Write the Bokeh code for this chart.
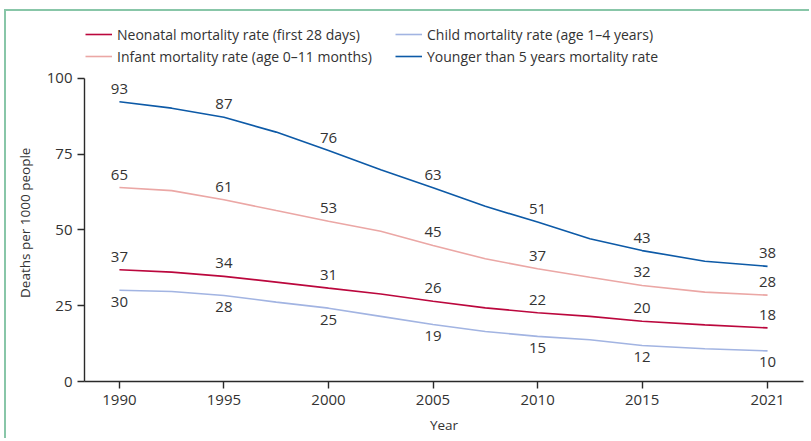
from bokeh.plotting import figure
from bokeh.models import ColumnDataSource, Legend, LegendItem, FixedTicker, Range1d
from bokeh.embed import file_html
from bokeh.resources import INLINE
from bokeh.core.properties import value

# labelled values (data labels / ticks)
years = [1990, 1995, 2000, 2005, 2010, 2015, 2021]
neonatal = [37, 34, 31, 26, 22, 20, 18]
infant = [65, 61, 53, 45, 37, 32, 28]
child = [30, 28, 25, 19, 15, 12, 10]
under5 = [93, 87, 76, 63, 51, 43, 38]
y_ticks = [0, 25, 50, 75, 100]

# curve values
curve_years = [1990, 1992.5, 1995, 1997.5, 2000, 2002.5, 2005, 2007.5, 2010, 2012.5, 2015, 2018, 2021]
neonatal_curve = [36.9, 36.1, 34.7, 32.8, 30.8, 28.9, 26.5, 24.3, 22.7, 21.5, 19.9, 18.7, 17.7]
infant_curve = [64.0, 63.0, 60.0, 56.4, 52.9, 49.6, 44.9, 40.5, 37.2, 34.4, 31.7, 29.5, 28.5]
child_curve = [30.1, 29.7, 28.4, 26.2, 24.2, 21.5, 18.8, 16.5, 14.9, 13.8, 11.9, 10.8, 10.1]
under5_curve = [92.3, 90.2, 87.2, 82.3, 76.2, 69.9, 63.9, 57.8, 52.6, 47.1, 43.2, 39.7, 38.0]

names = [
    "Neonatal mortality rate (first 28 days)",
    "Child mortality rate (age 1\u20134 years)",
    "Infant mortality rate (age 0\u201311 months)",
    "Younger than 5 years mortality rate",
]
x_title = "Year"
y_title = "Deaths per 1000 people"

FONT = "Open Sans"
TXT = "#333333"

# frame extends to the top of the canvas so the legend is drawn inside it;
# the y axis itself is bounded to 0-100
p = figure(width=805, height=429, output_backend="svg", toolbar_location=None,
           x_range=Range1d(1988.33, 2022.72), y_range=Range1d(0, 122.1),
           min_border_left=78, min_border_right=8, min_border_top=0, min_border_bottom=59)
p.grid.visible = False
p.outline_line_color = None
p.background_fill_color = "white"
p.border_fill_color = "white"

series = [
    (neonatal, neonatal_curve, "#bb073d", -13),
    (child, child_curve, "#a2b4e2", 11.5),
    (infant, infant_curve, "#eba7a5", -13),
    (under5, under5_curve, "#0d5aa7", -13),
]
renderers = []
for vals, curve, col, off in series:
    lsrc = ColumnDataSource(dict(x=curve_years, y=curve))
    r = p.line("x", "y", source=lsrc, line_color=col, line_width=1.6)
    renderers.append(r)
    # each number sits just above (or below) its curve at that year
    ly = [curve[curve_years.index(yr)] for yr in years]
    src = ColumnDataSource(dict(x=years, y=ly, t=[str(v) for v in vals]))
    p.text("x", "y", text="t", source=src, y_offset=off, text_align="center",
           text_baseline="middle", text_font=value(FONT), text_font_size="15px",
           text_color=TXT)

legend = Legend(
    items=[LegendItem(label=n, renderers=[r]) for n, r in zip(names, renderers)],
    location=(1, 314), orientation="horizontal", ncols=2,
    padding=0, margin=0, spacing=0,
    glyph_width=27, glyph_height=22, label_height=22, label_width=278,
    label_standoff=5, label_text_font=FONT, label_text_font_size="14px",
    label_text_color=TXT, border_line_color=None, background_fill_alpha=0,
)
p.add_layout(legend)

for ax in (p.xaxis[0], p.yaxis[0]):
    ax.axis_line_color = "#2a2a2a"
    ax.axis_line_width = 1.4
    ax.major_tick_line_color = "#2a2a2a"
    ax.major_tick_line_width = 1.4
    ax.major_tick_out = 7
    ax.major_tick_in = 0
    ax.minor_tick_line_color = None
    ax.major_label_text_font = FONT
    ax.major_label_text_font_size = "15px"
    ax.major_label_text_color = TXT
    ax.axis_label_text_font = FONT
    ax.axis_label_text_font_size = "13.5px"
    ax.axis_label_text_font_style = "normal"
    ax.axis_label_text_color = TXT

p.yaxis.bounds = (0, 100)
p.xaxis.ticker = FixedTicker(ticks=years)
p.yaxis.ticker = FixedTicker(ticks=y_ticks)
p.xaxis.axis_label = x_title
# trailing no-break spaces centre the visible title on the 0-100 axis span
p.yaxis.axis_label = y_title + "\u00a0" * 15
p.xaxis.major_label_standoff = 6
p.xaxis.axis_label_standoff = 8
p.yaxis.major_label_standoff = 5
p.yaxis.axis_label_standoff = 10

p.styles = {"border-top": "2px solid #88c6a8", "border-left": "2px solid #88c6a8",
            "margin-left": "4px", "margin-top": "9px"}

open("out.html", "w").write(file_html(p, INLINE))
